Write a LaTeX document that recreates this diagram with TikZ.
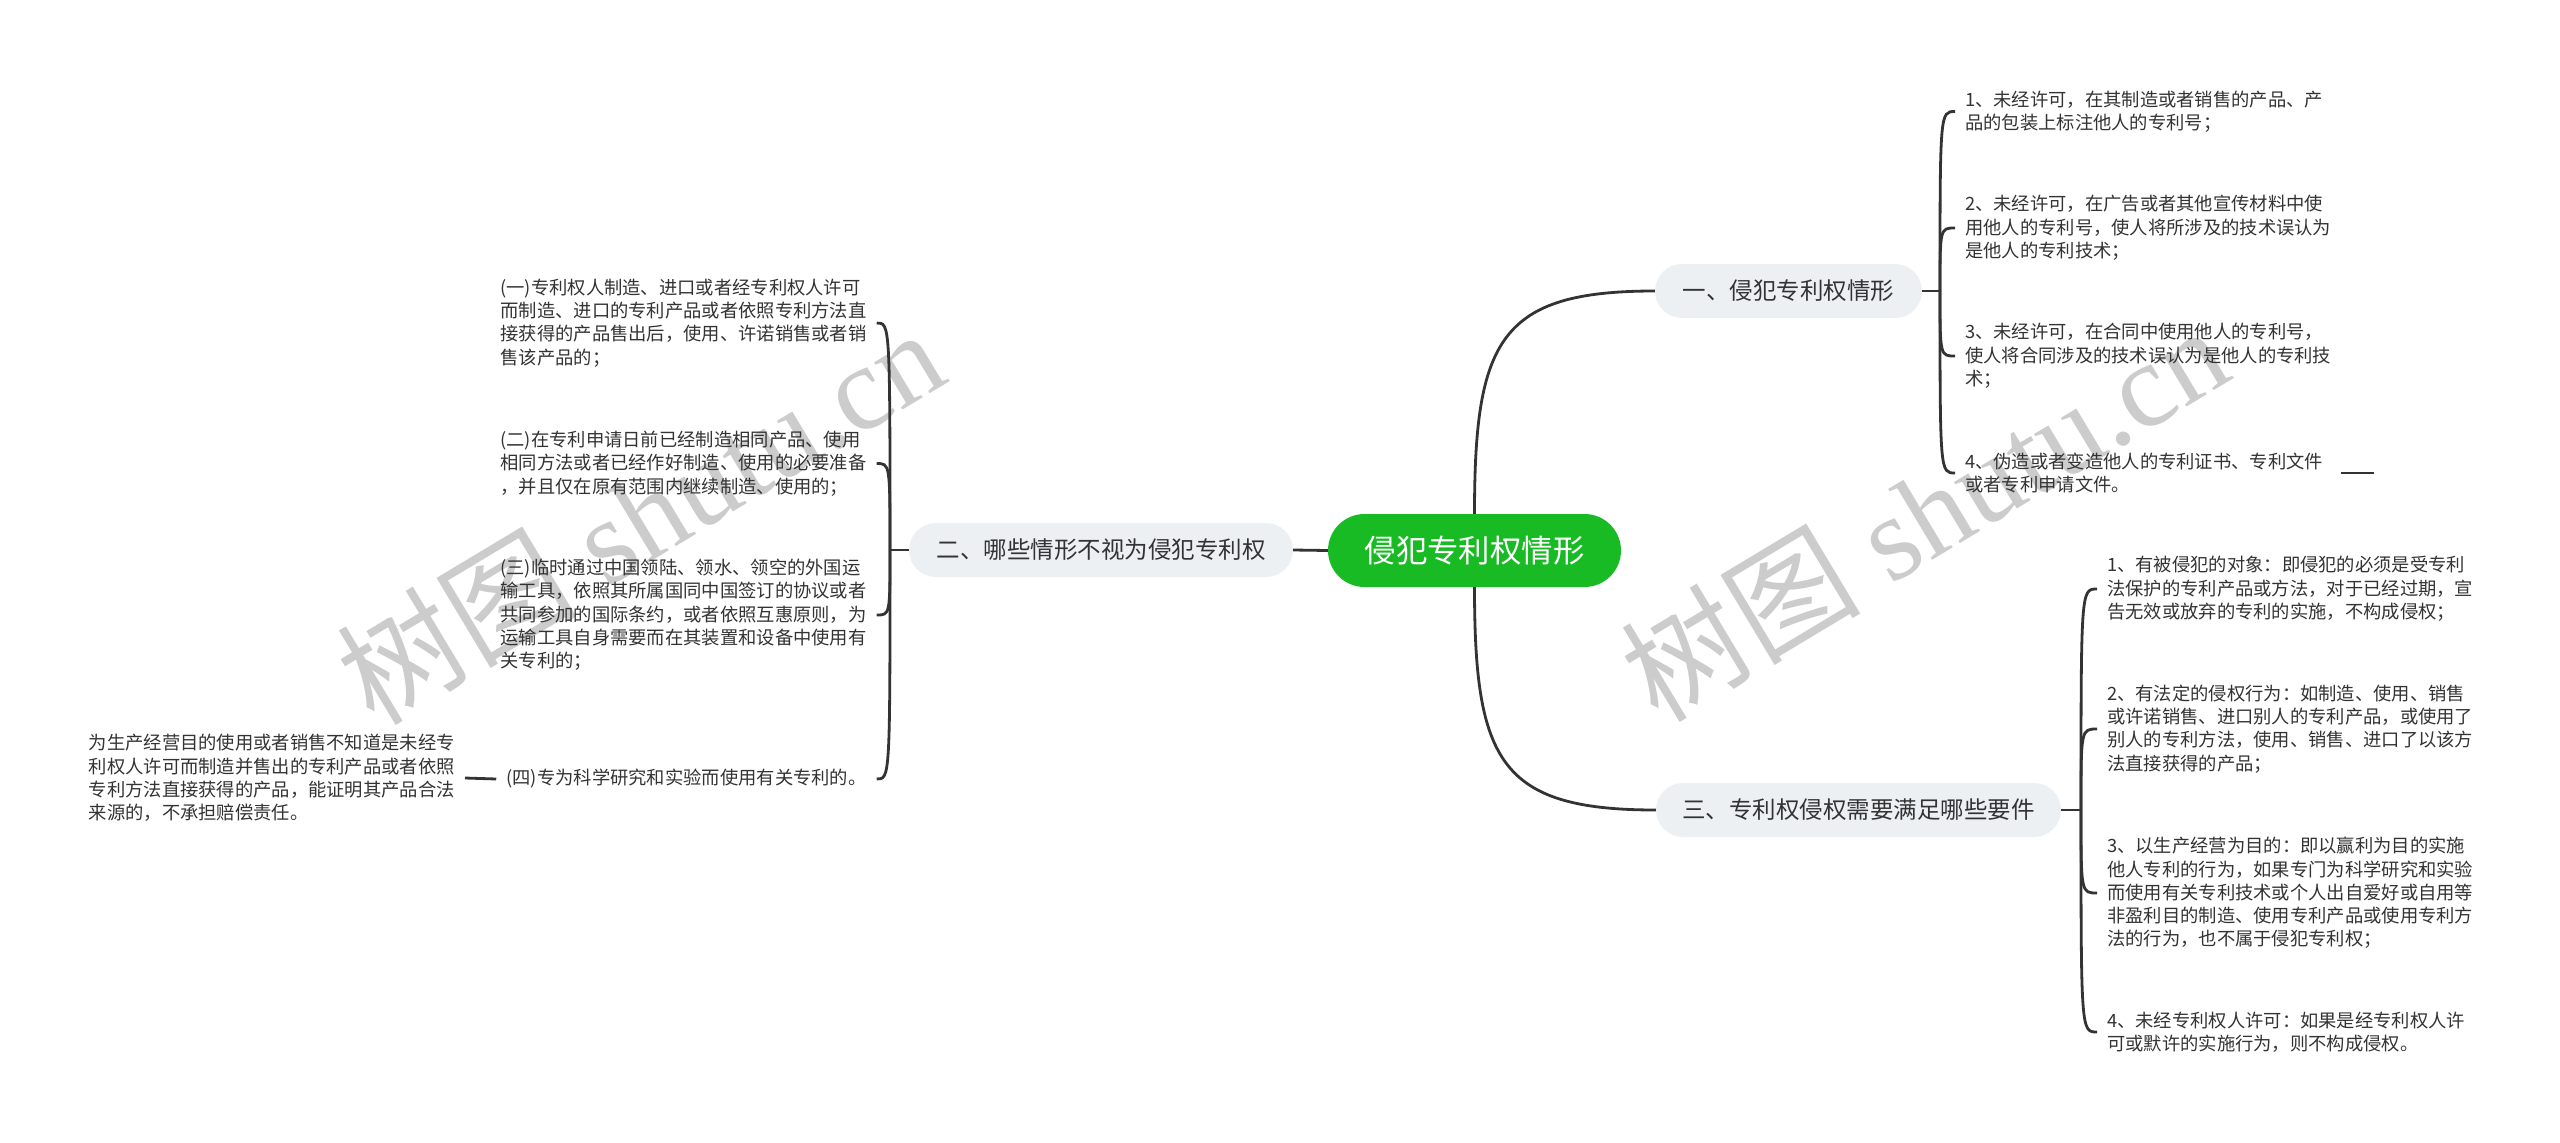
\documentclass[tikz,border=0pt]{standalone}
\usepackage{fontspec}
\setmainfont{Noto Sans CJK SC}
\newfontfamily\wmlatin{Liberation Serif}
\newfontfamily\wmcjk{Noto Sans CJK SC}
\usetikzlibrary{calc}
\definecolor{linec}{HTML}{333333}
\definecolor{textc}{HTML}{333333}
\definecolor{pillc}{HTML}{EDF0F3}
\definecolor{rootc}{HTML}{19BB25}
\definecolor{wmc}{RGB}{204,204,204}
\begin{document}
\begin{tikzpicture}[x=1pt,y=-1pt,
  conn/.style={draw=linec, line width=2.8pt},
  leaf/.style={anchor=west, text width=366pt, align=left, inner sep=0pt, text=textc,
    font=\fontsize{18.3}{23.3}\selectfont},
  leafL/.style={leaf, anchor=east},
  pill/.style={fill=pillc, rounded corners=27pt, minimum height=54pt, inner sep=0pt,
    text=textc, font=\fontsize{23.5}{28}\selectfont},
  rootnode/.style={fill=rootc, rounded corners=36.5pt, minimum height=73pt, minimum width=293pt,
    inner sep=0pt, text=white, font=\fontsize{31.4}{36}\selectfont},
  wm/.style={text=wmc, inner sep=0pt, font=\wmlatin\fontsize{120}{120}\selectfont}
]
\useasboundingbox[fill=white] (0,0) rectangle (2560,1143);

% watermarks (behind everything)
\node[wm, rotate=31] (wm1) at (640,515) {{\wmcjk 树图} shutu.cn};
\node[wm, rotate=31] (wm2) at (1924,512) {{\wmcjk 树图} shutu.cn};

% root and main branches
\node[rootnode] (root) at (1474.5,550.5) {侵犯专利权情形};
\node[pill, minimum width=267pt] (b1) at (1788.5,291) {一、侵犯专利权情形};
\node[pill, minimum width=384pt] (b2) at (1101,550) {二、哪些情形不视为侵犯专利权};
\node[pill, minimum width=405pt] (b3) at (1858.5,810) {三、专利权侵权需要满足哪些要件};

\draw[conn] (root.north) .. controls +(0,-174) and +(-155,0) .. (b1.west);
\draw[conn] (root.south) .. controls +(0,174) and +(-156,0) .. (b3.west);
\draw[conn] (root.west) -- (b2.east);

% branch 1 children
\node[leaf] (r1) at (1965,111.5) {1、未经许可，在其制造或者销售的产品、产\\品的包装上标注他人的专利号；};
\node[leaf] (r2) at (1965,228) {2、未经许可，在广告或者其他宣传材料中使\\用他人的专利号，使人将所涉及的技术误认为\\是他人的专利技术；};
\node[leaf] (r3) at (1965,356) {3、未经许可，在合同中使用他人的专利号，\\使人将合同涉及的技术误认为是他人的专利技\\术；};
\node[leaf] (r4) at (1965,473) {4、伪造或者变造他人的专利证书、专利文件\\或者专利申请文件。};

\coordinate (J1) at (1940,291);
\draw[conn] (b1.east) -- (J1);
\foreach \c in {r1,r2,r3,r4}{
  \draw[conn] (J1) .. controls (J1 |- \c.west) and (J1 |- \c.west) .. ([xshift=-10pt]\c.west);
}
\coordinate (d1a) at ([xshift=10pt]r4.east);
\coordinate (d1b) at ([xshift=43pt]r4.east);
\draw[conn] (d1a) -- (d1b);

% branch 3 children
\node[leaf] (s1) at (2107,589) {1、有被侵犯的对象：即侵犯的必须是受专利\\法保护的专利产品或方法，对于已经过期，宣\\告无效或放弃的专利的实施，不构成侵权；};
\node[leaf] (s2) at (2107,729) {2、有法定的侵权行为：如制造、使用、销售\\或许诺销售、进口别人的专利产品，或使用了\\别人的专利方法，使用、销售、进口了以该方\\法直接获得的产品；};
\node[leaf] (s3) at (2107,893) {3、以生产经营为目的：即以赢利为目的实施\\他人专利的行为，如果专门为科学研究和实验\\而使用有关专利技术或个人出自爱好或自用等\\非盈利目的制造、使用专利产品或使用专利方\\法的行为，也不属于侵犯专利权；};
\node[leaf] (s4) at (2107,1032) {4、未经专利权人许可：如果是经专利权人许\\可或默许的实施行为，则不构成侵权。};

\coordinate (J3) at (2081,810);
\draw[conn] (b3.east) -- (J3);
\foreach \c in {s1,s2,s3,s4}{
  \draw[conn] (J3) .. controls (J3 |- \c.west) and (J3 |- \c.west) .. ([xshift=-10pt]\c.west);
}

% branch 2 children
\node[leafL] (l1) at (866.7,323) {(一)专利权人制造、进口或者经专利权人许可\\而制造、进口的专利产品或者依照专利方法直\\接获得的产品售出后，使用、许诺销售或者销\\售该产品的；};
\node[leafL] (l2) at (866.7,463.5) {(二)在专利申请日前已经制造相同产品、使用\\相同方法或者已经作好制造、使用的必要准备\\，并且仅在原有范围内继续制造、使用的；};
\node[leafL] (l3) at (866.7,615) {(三)临时通过中国领陆、领水、领空的外国运\\输工具，依照其所属国同中国签订的协议或者\\共同参加的国际条约，或者依照互惠原则，为\\运输工具自身需要而在其装置和设备中使用有\\关专利的；};
\node[anchor=east, inner sep=0pt, text=textc, font=\fontsize{18.3}{23.3}\selectfont] (l4) at (866.7,779) {(四)专为科学研究和实验而使用有关专利的。};

\coordinate (J2) at (890,550);
\draw[conn] (b2.west) -- (J2);
\foreach \c in {l1,l2,l3,l4}{
  \draw[conn] (J2) .. controls (J2 |- \c.east) and (J2 |- \c.east) .. ([xshift=10pt]\c.east);
}

\node[leafL] (l4a) at (455,778) {为生产经营目的使用或者销售不知道是未经专\\利权人许可而制造并售出的专利产品或者依照\\专利方法直接获得的产品，能证明其产品合法\\来源的，不承担赔偿责任。};
\draw[conn] ([xshift=-10pt]l4.west) -- ([xshift=10pt]l4a.east);
\end{tikzpicture}
\end{document}
